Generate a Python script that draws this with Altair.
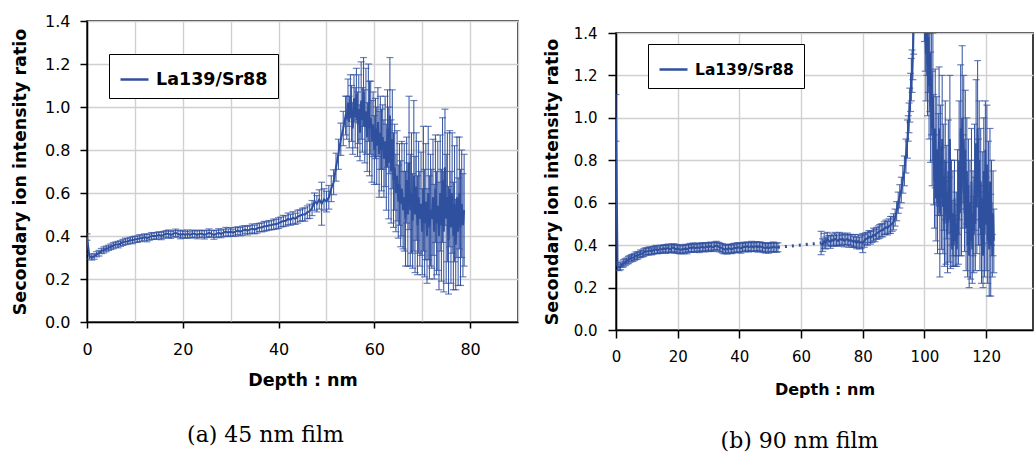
import altair as alt
import pandas as pd

SERIES = "La139/Sr88"
BLUE = "#2f4f9f"
GRID = "#d0d0d0"

# ---------------- (a) 45 nm film ----------------
A1_START, A1_STEP = 0.0, 0.5
a1_ratio = [
    0.395, 0.305, 0.30, 0.305, 0.315, 0.32, 0.33, 0.335, 0.34, 0.345,
    0.35, 0.355, 0.36, 0.36, 0.365, 0.37, 0.375, 0.375, 0.38, 0.38,
    0.385, 0.385, 0.39, 0.39, 0.395, 0.39, 0.395, 0.40, 0.40, 0.40,
    0.405, 0.40, 0.405, 0.41, 0.41, 0.405, 0.41, 0.415, 0.41, 0.405,
    0.41, 0.405, 0.41, 0.405, 0.41, 0.41, 0.405, 0.41, 0.41, 0.405,
    0.41, 0.415, 0.41, 0.405, 0.41, 0.415, 0.41, 0.415, 0.42, 0.415,
    0.42, 0.415, 0.42, 0.425, 0.42, 0.425, 0.43, 0.425, 0.43, 0.435,
    0.43, 0.435, 0.44, 0.44, 0.445, 0.445, 0.45, 0.45, 0.455, 0.455,
    0.46, 0.465, 0.47, 0.47, 0.48, 0.475, 0.485, 0.48, 0.49, 0.495,
    0.50, 0.50, 0.51, 0.515, 0.53, 0.56, 0.55, 0.57, 0.55, 0.57,
    0.56, 0.58, 0.62, 0.65, 0.72, 0.78, 0.85, 0.90, 0.96,
]
a1_err = [
    0.015, 0.012, 0.012, 0.013, 0.012, 0.013, 0.012, 0.014, 0.013, 0.012,
    0.013, 0.014, 0.012, 0.015, 0.013, 0.014, 0.015, 0.013, 0.014, 0.016,
    0.014, 0.015, 0.016, 0.014, 0.015, 0.017, 0.015, 0.016, 0.014, 0.016,
    0.015, 0.017, 0.016, 0.015, 0.018, 0.016, 0.015, 0.017, 0.016, 0.018,
    0.017, 0.016, 0.018, 0.015, 0.017, 0.016, 0.018, 0.017, 0.016, 0.019,
    0.017, 0.018, 0.016, 0.020, 0.017, 0.019, 0.018, 0.017, 0.020, 0.018,
    0.019, 0.017, 0.020, 0.018, 0.019, 0.021, 0.018, 0.020, 0.019, 0.021,
    0.020, 0.022, 0.019, 0.021, 0.023, 0.020, 0.022, 0.021, 0.024, 0.022,
    0.025, 0.023, 0.026, 0.024, 0.027, 0.025, 0.028, 0.026, 0.030, 0.027,
    0.029, 0.031, 0.030, 0.033, 0.035, 0.040, 0.038, 0.045, 0.100, 0.050,
    0.048, 0.055, 0.060, 0.058, 0.065, 0.070, 0.075, 0.080, 0.090,
]
A2_START, A2_STEP = 54.25, 0.25
a2_ratio = [
    0.95, 1.02, 0.93, 1.05, 0.97, 0.90, 1.04, 0.95,
    1.06, 0.92, 0.99, 0.88, 1.03, 0.94, 1.07, 0.91,
    0.98, 0.86, 1.02, 0.90, 0.95, 0.84, 0.92, 0.80,
    0.90, 0.82, 0.93, 0.78, 0.88, 0.80, 0.86, 0.76,
    0.84, 0.72, 0.90, 0.74, 0.96, 0.70, 0.85, 0.66,
    0.72, 0.60, 0.68, 0.56, 0.64, 0.55, 0.62, 0.52,
    0.58, 0.48, 0.66, 0.50, 0.74, 0.52, 0.60, 0.47,
    0.68, 0.50, 0.63, 0.45, 0.58, 0.48, 0.55, 0.42,
    0.62, 0.46, 0.56, 0.40, 0.60, 0.44, 0.52, 0.48,
    0.58, 0.42, 0.62, 0.46, 0.54, 0.40, 0.60, 0.45,
    0.66, 0.42, 0.72, 0.48, 0.58, 0.38, 0.62, 0.44,
    0.60, 0.40, 0.55, 0.36, 0.58, 0.42, 0.60, 0.44,
    0.55, 0.45, 0.52,
]
a2_err = [
    0.10, 0.11, 0.12, 0.10, 0.13, 0.12, 0.11, 0.14,
    0.12, 0.15, 0.16, 0.13, 0.18, 0.15, 0.16, 0.17,
    0.20, 0.16, 0.18, 0.22, 0.17, 0.19, 0.15, 0.16,
    0.14, 0.18, 0.16, 0.20, 0.17, 0.19, 0.15, 0.18,
    0.21, 0.20, 0.18, 0.26, 0.27, 0.24, 0.23, 0.22,
    0.20, 0.18, 0.21, 0.17, 0.19, 0.20, 0.22, 0.18,
    0.25, 0.22, 0.20, 0.24, 0.31, 0.26, 0.28, 0.22,
    0.35, 0.27, 0.25, 0.23, 0.26, 0.22, 0.24, 0.20,
    0.29, 0.25, 0.27, 0.22, 0.31, 0.24, 0.26, 0.23,
    0.27, 0.22, 0.25, 0.24, 0.30, 0.25, 0.27, 0.26,
    0.29, 0.28, 0.27, 0.30, 0.30, 0.25, 0.27, 0.26,
    0.28, 0.25, 0.27, 0.21, 0.28, 0.25, 0.26, 0.27,
    0.25, 0.24, 0.26,
]

# ---------------- (b) 90 nm film ----------------
B1_START, B1_STEP = 0.0, 0.5
b1_ratio = [
    1.00, 0.30, 0.295, 0.30, 0.31, 0.315, 0.32, 0.325, 0.33, 0.335,
    0.34, 0.34, 0.345, 0.35, 0.35, 0.355, 0.36, 0.36, 0.365, 0.37,
    0.37, 0.372, 0.375, 0.37, 0.375, 0.378, 0.38, 0.375, 0.38, 0.382,
    0.38, 0.385, 0.38, 0.385, 0.385, 0.38, 0.385, 0.388, 0.385, 0.38,
    0.385, 0.38, 0.378, 0.382, 0.38, 0.385, 0.38, 0.385, 0.388, 0.385,
    0.39, 0.385, 0.388, 0.39, 0.385, 0.39, 0.392, 0.388, 0.39, 0.393,
    0.39, 0.395, 0.392, 0.39, 0.395, 0.398, 0.395, 0.39, 0.388, 0.385,
    0.38, 0.382, 0.38, 0.385, 0.383, 0.38, 0.385, 0.388, 0.385, 0.39,
    0.388, 0.385, 0.39, 0.392, 0.39, 0.395, 0.39, 0.392, 0.395, 0.39,
    0.393, 0.395, 0.39, 0.395, 0.392, 0.39, 0.388, 0.385, 0.39, 0.385,
    0.39, 0.388, 0.392, 0.39, 0.388, 0.39,
]
b1_err = [
    0.110, 0.018, 0.015, 0.016, 0.015, 0.017, 0.016, 0.015, 0.017, 0.016,
    0.015, 0.017, 0.016, 0.018, 0.016, 0.015, 0.017, 0.016, 0.018, 0.017,
    0.016, 0.018, 0.017, 0.016, 0.018, 0.017, 0.019, 0.016, 0.018, 0.017,
    0.018, 0.017, 0.019, 0.018, 0.020, 0.017, 0.019, 0.018, 0.020, 0.019,
    0.018, 0.020, 0.019, 0.018, 0.020, 0.019, 0.021, 0.018, 0.020, 0.019,
    0.020, 0.018, 0.021, 0.019, 0.020, 0.018, 0.020, 0.019, 0.021, 0.018,
    0.020, 0.019, 0.021, 0.020, 0.018, 0.020, 0.019, 0.021, 0.020, 0.022,
    0.021, 0.020, 0.022, 0.019, 0.021, 0.020, 0.022, 0.021, 0.020, 0.022,
    0.021, 0.023, 0.020, 0.022, 0.021, 0.020, 0.022, 0.021, 0.023, 0.020,
    0.022, 0.021, 0.023, 0.020, 0.022, 0.021, 0.023, 0.022, 0.020, 0.023,
    0.022, 0.021, 0.023, 0.020, 0.022, 0.021,
]
B2_START, B2_STEP = 66.5, 0.5
b2_ratio = [
    0.41, 0.40, 0.42, 0.41, 0.43, 0.42, 0.415, 0.425, 0.42, 0.43,
    0.425, 0.42, 0.43, 0.425, 0.43, 0.42, 0.425, 0.43, 0.42, 0.425,
    0.42, 0.415, 0.42, 0.41, 0.42, 0.41, 0.415, 0.41, 0.42, 0.43,
    0.43, 0.44, 0.435, 0.44, 0.45, 0.445, 0.455, 0.46, 0.465, 0.47,
    0.47, 0.48, 0.485, 0.48, 0.49, 0.495, 0.50, 0.51, 0.53, 0.56,
    0.60, 0.63, 0.66, 0.71, 0.75, 0.82, 0.90,
]
b2_err = [
    0.055, 0.030, 0.035, 0.028, 0.030, 0.025, 0.030, 0.028, 0.025, 0.030,
    0.028, 0.025, 0.030, 0.027, 0.026, 0.028, 0.025, 0.027, 0.030, 0.026,
    0.028, 0.025, 0.030, 0.027, 0.030, 0.028, 0.030, 0.045, 0.030, 0.028,
    0.030, 0.028, 0.030, 0.027, 0.030, 0.029, 0.028, 0.030, 0.032, 0.030,
    0.031, 0.030, 0.033, 0.032, 0.034, 0.040, 0.035, 0.038, 0.040, 0.045,
    0.050, 0.055, 0.060, 0.065, 0.070, 0.080, 0.090,
]
B3_START, B3_STEP = 94.75, 0.25
b3_ratio = [
    0.95, 1.00, 1.06, 1.12, 1.18, 1.22, 1.30, 1.45, 1.60, 1.80,
    2.00, 2.20, 2.40, 2.50, 2.60, 2.50, 2.40, 2.30, 2.10, 1.90,
    1.70, 1.55, 1.42, 1.30, 1.45, 1.25, 1.38, 1.15, 1.30, 1.05,
    1.20, 0.95, 1.10, 0.85, 0.70, 0.95, 0.62, 0.85, 0.58, 0.78,
    0.95, 0.55, 0.80, 0.62, 0.90, 0.58, 0.72, 0.50, 0.80, 0.55,
    0.65, 0.45, 0.75, 0.52, 0.90, 0.45, 0.60, 0.38, 0.55, 0.40,
    0.62, 0.42, 0.50, 0.38, 0.65, 0.45, 0.80, 0.55, 0.95, 0.60,
    1.00, 0.70, 0.90, 0.55, 0.85, 0.48, 0.75, 0.40, 0.68, 0.35,
    0.60, 0.42, 0.70, 0.38, 0.55, 0.45, 0.72, 0.50, 0.88, 0.58,
    0.95, 0.65, 0.80, 0.48, 0.70, 0.40, 0.62, 0.35, 0.75, 0.45,
    0.85, 0.50, 0.78, 0.42, 0.65, 0.38, 0.70, 0.40, 0.60, 0.35,
    0.55, 0.42,
]
b3_err = [
    0.06, 0.07, 0.08, 0.09, 0.10, 0.10, 0.12, 0.15, 0.18, 0.20,
    0.22, 0.25, 0.24, 0.26, 0.25, 0.24, 0.23, 0.22, 0.21, 0.20,
    0.20, 0.19, 0.20, 0.22, 0.25, 0.24, 0.26, 0.25, 0.27, 0.26,
    0.28, 0.27, 0.30, 0.26, 0.22, 0.28, 0.20, 0.25, 0.22, 0.24,
    0.29, 0.30, 0.26, 0.24, 0.30, 0.22, 0.25, 0.20, 0.28, 0.24,
    0.22, 0.18, 0.24, 0.20, 0.30, 0.16, 0.20, 0.08, 0.20, 0.10,
    0.18, 0.12, 0.15, 0.08, 0.20, 0.14, 0.28, 0.20, 0.30, 0.25,
    0.34, 0.22, 0.30, 0.18, 0.28, 0.20, 0.25, 0.15, 0.22, 0.15,
    0.20, 0.18, 0.25, 0.16, 0.20, 0.18, 0.25, 0.22, 0.30, 0.22,
    0.32, 0.25, 0.28, 0.20, 0.25, 0.18, 0.22, 0.15, 0.25, 0.20,
    0.23, 0.22, 0.28, 0.20, 0.24, 0.22, 0.25, 0.24, 0.20, 0.10,
    0.20, 0.15,
]

Y_TICKS = [0.0, 0.2, 0.4, 0.6, 0.8, 1.0, 1.2, 1.4]


def seg_df(start, step, ratio, err, seg):
    depth = [round(start + step * i, 3) for i in range(len(ratio))]
    return pd.DataFrame({
        "depth": depth,
        "ratio": ratio,
        "lo": [r - e for r, e in zip(ratio, err)],
        "hi": [r + e for r, e in zip(ratio, err)],
        "seg": seg,
        "series": SERIES,
    })


df_a = pd.concat([
    seg_df(A1_START, A1_STEP, a1_ratio, a1_err, "a"),
    seg_df(A2_START, A2_STEP, a2_ratio, a2_err, "a"),
], ignore_index=True)

df_b1 = seg_df(B1_START, B1_STEP, b1_ratio, b1_err, "b1")
df_b2 = pd.concat([
    seg_df(B2_START, B2_STEP, b2_ratio, b2_err, "b2"),
    seg_df(B3_START, B3_STEP, b3_ratio, b3_err, "b2"),
], ignore_index=True)
df_b = pd.concat([df_b1, df_b2], ignore_index=True)
gap_b = pd.concat([df_b1.tail(1), df_b2.head(1)], ignore_index=True)


def panel(df, gap, xdom, xvals, label_every, width, height, lab_fs, xt_fs,
          leg_fs, leg_x, leg_y, leg_pad, y_tick, y_labpad, y_titlepad,
          x_tick, x_labpad, x_titlepad, caption, cap_dx, cap_offset):
    xs = alt.Scale(domain=xdom, nice=False, zero=False)
    ys = alt.Scale(domain=[0, 1.4], nice=False)
    x_axis = alt.Axis(
        values=xvals,
        labelExpr=f"datum.value % {label_every} === 0 ? datum.label : ''",
        tickOpacity={"condition": {"test": f"datum.value % {label_every} === 0", "value": 1}, "value": 0},
        grid=True, gridColor=GRID, gridWidth=1.4,
        domainColor="black", domainWidth=1.5,
        tickColor="black", tickWidth=1.5, tickSize=x_tick,
        labelPadding=x_labpad, labelFont="DejaVu Sans", labelFontSize=lab_fs,
        labelColor="black", labelFlush=False, labelOverlap=False,
        title="Depth : nm", titleFont="DejaVu Sans", titleFontSize=xt_fs,
        titleFontWeight="bold", titleColor="black", titlePadding=x_titlepad,
    )
    y_axis = alt.Axis(
        values=Y_TICKS, format=".1f",
        grid=True, gridColor=GRID, gridWidth=1.4,
        domainColor="black", domainWidth=1.5,
        tickColor="black", tickWidth=1.5, tickSize=y_tick,
        labelPadding=y_labpad, labelFont="DejaVu Sans", labelFontSize=lab_fs,
        labelColor="black", labelFlush=False,
        title="Secondary ion intensity ratio", titleFont="DejaVu Sans",
        titleFontSize=17.5, titleFontWeight="bold", titleColor="black",
        titlePadding=y_titlepad,
    )
    X = alt.X("depth:Q", scale=xs, axis=x_axis)
    base = alt.Chart(df)
    bars = base.mark_rule(color=BLUE, strokeWidth=1, clip=True).encode(
        x=X, y=alt.Y("lo:Q", scale=ys, axis=y_axis), y2="hi:Q")
    cap_lo = base.mark_tick(color=BLUE, orient="horizontal", size=7,
                            thickness=1.2, clip=True).encode(
        x=X, y=alt.Y("lo:Q", scale=ys, axis=y_axis))
    cap_hi = base.mark_tick(color=BLUE, orient="horizontal", size=7,
                            thickness=1.2, clip=True).encode(
        x=X, y=alt.Y("hi:Q", scale=ys, axis=y_axis))
    legend = alt.Legend(
        orient="none", legendX=leg_x, legendY=leg_y, title=None,
        symbolType="stroke", symbolSize=784, symbolStrokeWidth=2.5,
        labelFont="DejaVu Sans", labelFontWeight="bold", labelFontSize=leg_fs,
        labelColor="black", labelOffset=6,
        strokeColor="black", fillColor="white", padding=leg_pad,
    )
    line = base.mark_line(strokeWidth=2, clip=True).encode(
        x=X, y=alt.Y("ratio:Q", scale=ys, axis=y_axis), detail="seg:N",
        color=alt.Color("series:N", scale=alt.Scale(domain=[SERIES], range=[BLUE]),
                        legend=legend))
    layers = [bars, cap_lo, cap_hi, line]
    if gap is not None:
        dots = alt.Chart(gap).mark_line(color=BLUE, strokeWidth=3,
                                        strokeDash=[2, 5], clip=True).encode(
            x=X, y=alt.Y("ratio:Q", scale=ys, axis=y_axis))
        layers.append(dots)
    return alt.layer(*layers).properties(
        width=width, height=height,
        title=alt.TitleParams(caption, orient="bottom", anchor="middle",
                              frame="group", dx=cap_dx, offset=cap_offset,
                              font="DejaVu Serif", fontSize=22,
                              fontWeight="normal", color="black"),
    )


left = panel(df_a, None, [0, 90], list(range(0, 91, 10)), 20, 431, 301,
             16, 17.5, 17.5, 22, 33, 10, 7, 10, 15, 6, 13, 14,
             "(a) 45 nm film", -37, 36)
right = panel(df_b, gap_b, [0, 135.2], list(range(0, 121, 20)), 20, 417, 297,
              15, 16, 15.5, 32, 23, 10, 8, 11, 12, 8, 11, 17,
              "(b) 90 nm film", -25, 34)

spacer = alt.Chart(pd.DataFrame({"s": [0]})).mark_point(opacity=0, size=1).encode(
    x=alt.value(0.5), y=alt.value(1.5)
).properties(width=1, height=3, view=alt.ViewBackground(stroke="transparent"))

chart = alt.concat(
    left, alt.vconcat(spacer, right, spacing=0),
    columns=2, align="none", spacing=23,
).resolve_scale(color="independent").properties(
    padding={"left": 10, "top": 12, "right": 0, "bottom": 0},
    background="white",
).configure_view(stroke="black", strokeWidth=1.5)

chart.save("out.html", embed_options={"renderer": "svg", "actions": False})
